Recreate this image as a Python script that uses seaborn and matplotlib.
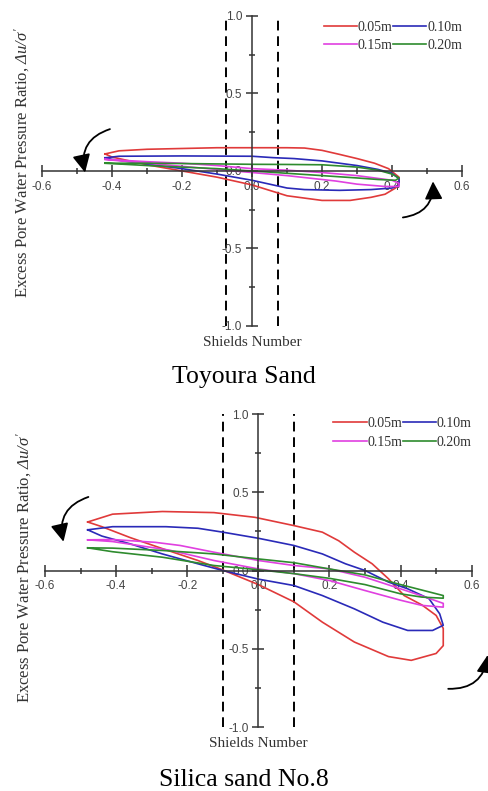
import pandas as pd
import matplotlib
matplotlib.use("Agg")
import matplotlib.pyplot as plt
import seaborn as sns
from matplotlib.ticker import MultipleLocator, FormatStrFormatter

plt.rcParams['font.family'] = ['Liberation Sans', 'DejaVu Sans']
plt.rcParams['mathtext.fontset'] = 'custom'
plt.rcParams['mathtext.rm'] = 'Liberation Serif:italic'
plt.rcParams['mathtext.it'] = 'Liberation Serif:italic'

# depths of the pore pressure gauges
depths = ["0.05m", "0.10m", "0.15m", "0.20m"]
colors = ["#e03a3a", "#2a2ab8", "#e040e0", "#2e8b2e"]

# Toyoura sand loops (Shields number vs excess pore pressure ratio)
toy_005_x = [-0.42, -0.38, -0.30, -0.20, -0.10, 0.00, 0.10, 0.15, 0.20, 0.25, 0.30, 0.35, 0.39, 0.42, 0.42,
             0.41, 0.38, 0.34, 0.28, 0.20, 0.10, 0.00, -0.10, -0.20, -0.30, -0.40, -0.42]
toy_005_y = [0.11, 0.13, 0.14, 0.145, 0.15, 0.15, 0.15, 0.148, 0.133, 0.107, 0.08, 0.05, 0.015, -0.04, -0.08,
             -0.11, -0.15, -0.17, -0.19, -0.19, -0.16, -0.09, -0.04, 0.00, 0.04, 0.09, 0.11]
toy_010_x = [-0.42, -0.38, -0.20, 0.00, 0.06, 0.12, 0.20, 0.30, 0.36, 0.40, 0.42, 0.42,
             0.40, 0.34, 0.25, 0.15, 0.10, 0.05, 0.00, -0.10, -0.20, -0.30, -0.40, -0.42]
toy_010_y = [0.085, 0.095, 0.097, 0.095, 0.086, 0.08, 0.065, 0.035, 0.01, -0.015, -0.05, -0.09,
             -0.11, -0.12, -0.125, -0.12, -0.11, -0.085, -0.06, -0.02, 0.015, 0.045, 0.075, 0.085]
toy_015_x = [-0.42, -0.38, -0.30, -0.20, -0.10, 0.00, 0.10, 0.20, 0.30, 0.40, 0.42,
             0.42, 0.38, 0.30, 0.24, 0.10, 0.00, -0.10, -0.20, -0.30, -0.40, -0.42]
toy_015_y = [0.075, 0.07, 0.06, 0.05, 0.035, 0.015, 0.005, -0.01, -0.03, -0.06, -0.08,
             -0.10, -0.10, -0.085, -0.065, -0.03, -0.01, 0.01, 0.03, 0.05, 0.07, 0.075]
toy_020_x = [-0.42, -0.30, -0.20, 0.00, 0.10, 0.20, 0.30, 0.36, 0.40, 0.42,
             0.41, 0.36, 0.30, 0.20, 0.10, 0.00, -0.10, -0.20, -0.30, -0.42]
toy_020_y = [0.05, 0.05, 0.048, 0.043, 0.042, 0.04, 0.025, 0.005, -0.02, -0.045,
             -0.06, -0.055, -0.045, -0.03, -0.015, 0.00, 0.015, 0.025, 0.035, 0.05]

# Silica sand No.8 loops
sil_005_x = [-0.48, -0.41, -0.27, -0.125, -0.01, 0.10, 0.18, 0.226, 0.27, 0.32, 0.366, 0.41, 0.46, 0.50, 0.52,
             0.52, 0.50, 0.43, 0.366, 0.27, 0.18, 0.10, 0.00, -0.107, -0.17, -0.27, -0.36, -0.44, -0.48]
sil_005_y = [0.31, 0.36, 0.377, 0.37, 0.34, 0.287, 0.245, 0.19, 0.117, 0.043, -0.053, -0.16, -0.22, -0.287, -0.37,
             -0.48, -0.53, -0.574, -0.55, -0.457, -0.33, -0.20, -0.09, 0.01, 0.064, 0.14, 0.21, 0.28, 0.31]
sil_010_x = [-0.48, -0.41, -0.26, -0.17, -0.10, 0.00, 0.10, 0.18, 0.245, 0.30, 0.366, 0.42, 0.48, 0.51,
             0.52, 0.49, 0.42, 0.35, 0.27, 0.18, 0.10, 0.00, -0.10, -0.17, -0.27, -0.36, -0.44, -0.48]
sil_010_y = [0.26, 0.28, 0.28, 0.27, 0.245, 0.206, 0.16, 0.106, 0.043, 0.0, -0.074, -0.117, -0.18, -0.277,
             -0.35, -0.383, -0.383, -0.33, -0.245, -0.16, -0.096, -0.055, 0.0, 0.043, 0.106, 0.17, 0.22, 0.26]
sil_015_x = [-0.48, -0.41, -0.29, -0.22, -0.125, 0.00, 0.10, 0.20, 0.30, 0.40, 0.47, 0.52,
             0.52, 0.46, 0.40, 0.30, 0.20, 0.10, 0.00, -0.125, -0.25, -0.41, -0.48]
sil_015_y = [0.196, 0.198, 0.18, 0.16, 0.117, 0.064, 0.032, 0.01, -0.043, -0.117, -0.17, -0.21,
             -0.234, -0.223, -0.19, -0.128, -0.064, -0.02, 0.01, 0.064, 0.13, 0.185, 0.196]
sil_020_x = [-0.48, -0.41, -0.27, -0.125, 0.00, 0.10, 0.20, 0.30, 0.40, 0.52,
             0.52, 0.46, 0.40, 0.30, 0.20, 0.10, 0.00, -0.125, -0.27, -0.41, -0.48]
sil_020_y = [0.145, 0.143, 0.128, 0.106, 0.074, 0.05, 0.01, -0.028, -0.09, -0.16,
             -0.177, -0.17, -0.149, -0.09, -0.05, -0.02, 0.005, 0.032, 0.085, 0.12, 0.145]

# critical Shields number band (dashed lines)
toy_band = 0.075
sil_band = 0.10


def loops_frame(xs, ys):
    parts = []
    for d, x, y in zip(depths, xs, ys):
        parts.append(pd.DataFrame({"shields": x, "ratio": y, "depth": d}))
    return pd.concat(parts, ignore_index=True)


def draw_panel(ax, df, band, ylab_pos, xlab_y, leg_y):
    sns.lineplot(data=df, x="shields", y="ratio", hue="depth", hue_order=depths, palette=colors,
                 sort=False, estimator=None, lw=1.2, legend=False, ax=ax)
    ax.vlines([-band, band], -1, 1, colors="k", linestyles=(0, (5, 3)), lw=1.4, zorder=1)

    ax.set_xlim(-0.6, 0.6)
    ax.set_ylim(-1, 1)
    ax.patch.set_visible(False)
    for s in ["top", "right"]:
        ax.spines[s].set_visible(False)
    for s in ["left", "bottom"]:
        ax.spines[s].set_position(("data", 0))
        ax.spines[s].set_color("#333333")
        ax.spines[s].set_linewidth(1.1)
    ax.xaxis.set_major_locator(MultipleLocator(0.2))
    ax.xaxis.set_minor_locator(MultipleLocator(0.1))
    ax.yaxis.set_major_locator(MultipleLocator(0.5))
    ax.yaxis.set_minor_locator(MultipleLocator(0.25))
    ax.xaxis.set_major_formatter(FormatStrFormatter("%.1f"))
    ax.yaxis.set_major_formatter(FormatStrFormatter("%.1f"))
    ax.tick_params(which="major", direction="inout", length=8, width=1.1, color="#333333",
                   labelsize=8.5, labelcolor="#444444", pad=3)
    ax.tick_params(which="minor", direction="inout", length=5, width=1.1, color="#333333")

    ax.set_xlabel("Shields Number", family="Liberation Serif", fontsize=11, color="#333333", va="center")
    ax.xaxis.set_label_coords(0.5, xlab_y)
    ax.set_ylabel(r"Excess Pore Water Pressure Ratio, $\Delta u/\sigma'$", family="Liberation Serif",
                  fontsize=12, color="#333333", va="center")
    ax.yaxis.set_label_coords(*ylab_pos)

    h = ax.get_lines()[:4]
    ax.legend([h[0], h[2], h[1], h[3]], [depths[0], depths[2], depths[1], depths[3]], ncol=2,
              loc="upper right", bbox_to_anchor=(1.0, leg_y), frameon=False,
              prop={"family": "Liberation Serif", "size": 10}, labelcolor="#333333",
              handlelength=2.4, handletextpad=0.05, columnspacing=0.05,
              borderaxespad=0, borderpad=0, labelspacing=0.4)


def curved_arrow(ax, start, end):
    ax.annotate("", xy=end, xytext=start, annotation_clip=False,
                arrowprops=dict(arrowstyle="-|>", connectionstyle="arc3,rad=0.45", color="k",
                                lw=1.3, mutation_scale=27, shrinkA=0, shrinkB=0))


fig = plt.figure(figsize=(4.88, 7.91), dpi=100)
ax1 = fig.add_axes([0.0861, 0.5879, 0.8607, 0.3919])
ax2 = fig.add_axes([0.0922, 0.0809, 0.8744, 0.3957])

draw_panel(ax1, loops_frame([toy_005_x, toy_010_x, toy_015_x, toy_020_x],
                            [toy_005_y, toy_010_y, toy_015_y, toy_020_y]),
           toy_band, (-0.047, 0.526), -0.052, 0.985)
draw_panel(ax2, loops_frame([sil_005_x, sil_010_x, sil_015_x, sil_020_x],
                            [sil_005_y, sil_010_y, sil_015_y, sil_020_y]),
           sil_band, (-0.048, 0.508), -0.054, 0.99)

curved_arrow(ax1, (-0.406, 0.27), (-0.477, -0.01))
curved_arrow(ax1, (0.431, -0.30), (0.517, -0.067))
curved_arrow(ax2, (-0.478, 0.47), (-0.548, 0.184))
curved_arrow(ax2, (0.534, -0.756), (0.645, -0.54))

fig.text(0.5, 0.5158, "Toyoura Sand", ha="center", va="baseline", family="Liberation Serif", fontsize=18.5)
fig.text(0.5, 0.0063, "Silica sand No.8", ha="center", va="baseline", family="Liberation Serif", fontsize=18.5)

fig.savefig("out.png", dpi=100)
